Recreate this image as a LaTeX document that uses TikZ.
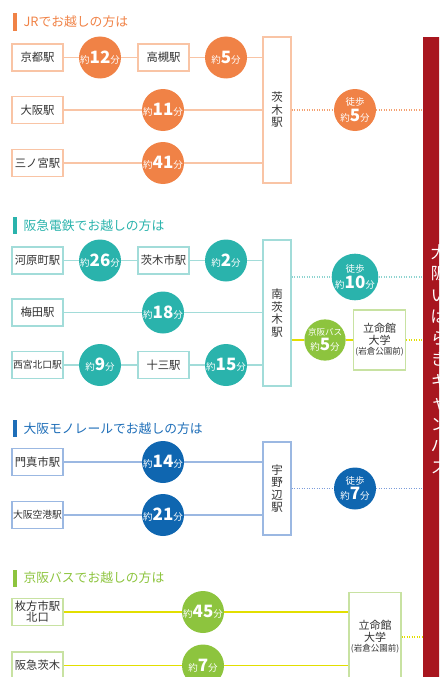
\documentclass[tikz,border=0pt]{standalone}
\usepackage{fontspec}
\setmainfont{Noto Sans CJK JP}
\usetikzlibrary{calc}
\definecolor{orC}{HTML}{F08246}
\definecolor{orL}{HTML}{F9C4A5}
\definecolor{orD}{HTML}{F4A070}
\definecolor{teC}{HTML}{2AB3AC}
\definecolor{teL}{HTML}{A2DCD9}
\definecolor{teD}{HTML}{8ED4D0}
\definecolor{blC}{HTML}{0F66B0}
\definecolor{blL}{HTML}{9BB8E2}
\definecolor{blD}{HTML}{7C9CDA}
\definecolor{blT}{HTML}{1E6EB8}
\definecolor{grC}{HTML}{8DC43E}
\definecolor{grL}{HTML}{C8E2A2}
\definecolor{yeL}{HTML}{E2DF00}
\definecolor{campusred}{HTML}{A8161F}
\definecolor{txt}{HTML}{333333}
\newcommand\tmins[1]{{\fontsize{9.5}{10}\selectfont 約}{\fontsize{17}{17}\selectfont\bfseries #1}{\fontsize{9.5}{10}\selectfont 分}}
\newcommand\twalk[1]{{\fontsize{9.5}{10}\selectfont 徒歩}\\[1.5pt]\tmins{#1}}
\tikzset{
  stn/.style={draw=#1, fill=white, line width=1.2pt, minimum width=51pt, minimum height=27pt, inner sep=0pt, text=txt, font=\fontsize{11.3}{12}\selectfont},
  smallstn/.style={font=\fontsize{9.8}{11}\selectfont},
  trunkbox/.style={draw=#1, fill=white, line width=1.2pt, minimum width=28pt, inner sep=0pt, text=txt, align=center, font=\fontsize{11.5}{12.5}\selectfont},
  unibox/.style={draw=#1, fill=white, line width=1.2pt, minimum width=52pt, inner sep=0pt, text=txt, align=center, font=\fontsize{11}{11.5}\selectfont},
  circ/.style={circle, fill=#1, minimum size=42pt, inner sep=0pt, text=white, align=center, font=\fontsize{9.5}{10}\selectfont},
  link/.style={draw=#1, line width=1.5pt},
  dotlink/.style={draw=#1, line width=1.5pt, dash pattern=on 1.2pt off 1.3pt},
  sectitle/.style={anchor=west, text=#1, font=\fontsize{12.8}{13}\selectfont},
}
\begin{document}
\begin{tikzpicture}[x=1pt,y=-1pt]
\useasboundingbox (0,0) rectangle (439,677);
\clip (0,0) rectangle (439,677);
% campus bar
\node[fill=campusred, minimum width=40pt, minimum height=660pt, anchor=north west, inner sep=0pt] (campus) at (423,37) {};
\node[text=white, align=center, font=\fontsize{16.5}{21.5}\selectfont, anchor=north, inner sep=0pt] (campustext) at (439,244) {大\\阪\\い\\ば\\ら\\き\\キ\\ャ\\ン\\パ\\ス};

% ===== JR =====
\fill[orC] (12.7,13) rectangle (16.7,31);
\node[sectitle=orC] (jrtitle) at (20,22) {JRでお越しの方は};
\node[trunkbox=orL, minimum height=146pt] (ibaraki) at (277,110) {茨\\木\\駅};
\node[stn=orL] (kyoto) at (37.5,57.5) {京都駅};
\node[circ=orC] (c12) at (100,57.5) {\tmins{12}};
\node[stn=orL] (takatsuki) at (163.5,57.5) {高槻駅};
\node[circ=orC] (c5) at (226,57.5) {\tmins{5}};
\node[stn=orL] (osaka) at (37.5,110) {大阪駅};
\node[circ=orC] (c11) at (163,110) {\tmins{11}};
\node[stn=orL] (sannomiya) at (37.5,163) {三ノ宮駅};
\node[circ=orC] (c41) at (163,163) {\tmins{41}};
\node[circ=orC] (w5) at (355,110) {\twalk{5}};
\draw[link=orL] (kyoto) -- (c12);
\draw[link=orL] (c12) -- (takatsuki);
\draw[link=orL] (takatsuki) -- (c5);
\draw[link=orL] (c5) -- (c5 -| ibaraki.west);
\draw[link=orL] (osaka) -- (c11);
\draw[link=orL] (c11) -- (c11 -| ibaraki.west);
\draw[link=orL] (sannomiya) -- (c41);
\draw[link=orL] (c41) -- (c41 -| ibaraki.west);
\draw[dotlink=orD] (w5 -| ibaraki.east) -- (w5);
\draw[dotlink=orD] (w5) -- (w5 -| campus.west);

% ===== Hankyu =====
\fill[teC] (12.7,217) rectangle (16.7,234);
\node[sectitle=teC] (hktitle) at (20,225.5) {阪急電鉄でお越しの方は};
\node[trunkbox=teL, minimum height=146pt] (minami) at (277,313) {南\\茨\\木\\駅};
\node[stn=teL] (kawaramachi) at (37.5,260.5) {河原町駅};
\node[circ=teC] (c26) at (100,260.5) {\tmins{26}};
\node[stn=teL] (ibashi) at (163.5,260.5) {茨木市駅};
\node[circ=teC] (c2) at (226,260.5) {\tmins{2}};
\node[stn=teL] (umeda) at (37.5,312.5) {梅田駅};
\node[circ=teC] (c18) at (163,312.5) {\tmins{18}};
\node[stn=teL, smallstn] (nishi) at (37.5,365) {西宮北口駅};
\node[circ=teC] (c9) at (100,365) {\tmins{9}};
\node[stn=teL] (juso) at (163.5,365) {十三駅};
\node[circ=teC] (c15) at (226,365) {\tmins{15}};
\node[circ=teC] (w10) at (355,277) {\twalk{10}};
\node[unibox=grL, minimum height=60pt] (rits1) at (379.5,340) {立命館\\大学\\[-1pt]{\fontsize{8.5}{9}\selectfont (岩倉公園前)}};
\node[circ=grC, minimum size=40pt, font=\fontsize{8.5}{9}\selectfont] (kb5) at (325,340) {京阪バス\\[1.5pt]\tmins{5}};
\draw[link=teL] (kawaramachi) -- (c26);
\draw[link=teL] (c26) -- (ibashi);
\draw[link=teL] (ibashi) -- (c2);
\draw[link=teL] (c2) -- (c2 -| minami.west);
\draw[link=teL] (umeda) -- (c18);
\draw[link=teL] (c18) -- (c18 -| minami.west);
\draw[link=teL] (nishi) -- (c9);
\draw[link=teL] (c9) -- (juso);
\draw[link=teL] (juso) -- (c15);
\draw[link=teL] (c15) -- (c15 -| minami.west);
\draw[dotlink=teD] (w10 -| minami.east) -- (w10);
\draw[dotlink=teD] (w10) -- (w10 -| campus.west);
\draw[link=yeL] (kb5 -| minami.east) -- (kb5);
\draw[link=yeL] (kb5) -- (rits1);
\draw[dotlink=yeL] (rits1) -- (rits1 -| campus.west);

% ===== Monorail =====
\fill[blT] (12.7,420) rectangle (16.7,437);
\node[sectitle=blT] (motitle) at (20,428.5) {大阪モノレールでお越しの方は};
\node[trunkbox=blL, minimum height=93pt] (unobe) at (277,488.5) {宇\\野\\辺\\駅};
\node[stn=blL] (kadoma) at (37.5,462) {門真市駅};
\node[circ=blC] (c14) at (163,462) {\tmins{14}};
\node[stn=blL, smallstn] (kuko) at (37.5,515) {大阪空港駅};
\node[circ=blC] (c21) at (163,515) {\tmins{21}};
\node[circ=blC] (w7) at (355,488.5) {\twalk{7}};
\draw[link=blL] (kadoma) -- (c14);
\draw[link=blL] (c14) -- (c14 -| unobe.west);
\draw[link=blL] (kuko) -- (c21);
\draw[link=blL] (c21) -- (c21 -| unobe.west);
\draw[dotlink=blD] (w7 -| unobe.east) -- (w7);
\draw[dotlink=blD] (w7) -- (w7 -| campus.west);

% ===== Keihan bus =====
\fill[grC] (12.7,569.5) rectangle (16.7,586.5);
\node[sectitle=grC] (kbtitle) at (20,578) {京阪バスでお越しの方は};
\node[unibox=grL, minimum height=92pt, anchor=north] (rits2) at (375,592) {};
\node[text=txt, align=center, font=\fontsize{11}{11.5}\selectfont] (rits2text) at (375,637) {立命館\\大学\\[-1pt]{\fontsize{8.5}{9}\selectfont (岩倉公園前)}};
\node[stn=grL, font=\fontsize{11.3}{11}\selectfont, align=center] (hirakata) at (37.5,612) {枚方市駅\\北口};
\node[circ=grC] (c45) at (203,612) {\tmins{45}};
\node[stn=grL] (hkibaraki) at (37.5,665.5) {阪急茨木};
\node[circ=grC] (c7) at (203,665.5) {\tmins{7}};
\draw[link=yeL] (hirakata) -- (c45);
\draw[link=yeL] (c45) -- (c45 -| rits2.west);
\draw[link=yeL] (hkibaraki) -- (c7);
\draw[link=yeL] (c7) -- (c7 -| rits2.west);
\draw[dotlink=yeL] (rits2text -| rits2.east) -- (rits2text -| campus.west);
\end{tikzpicture}
\end{document}
